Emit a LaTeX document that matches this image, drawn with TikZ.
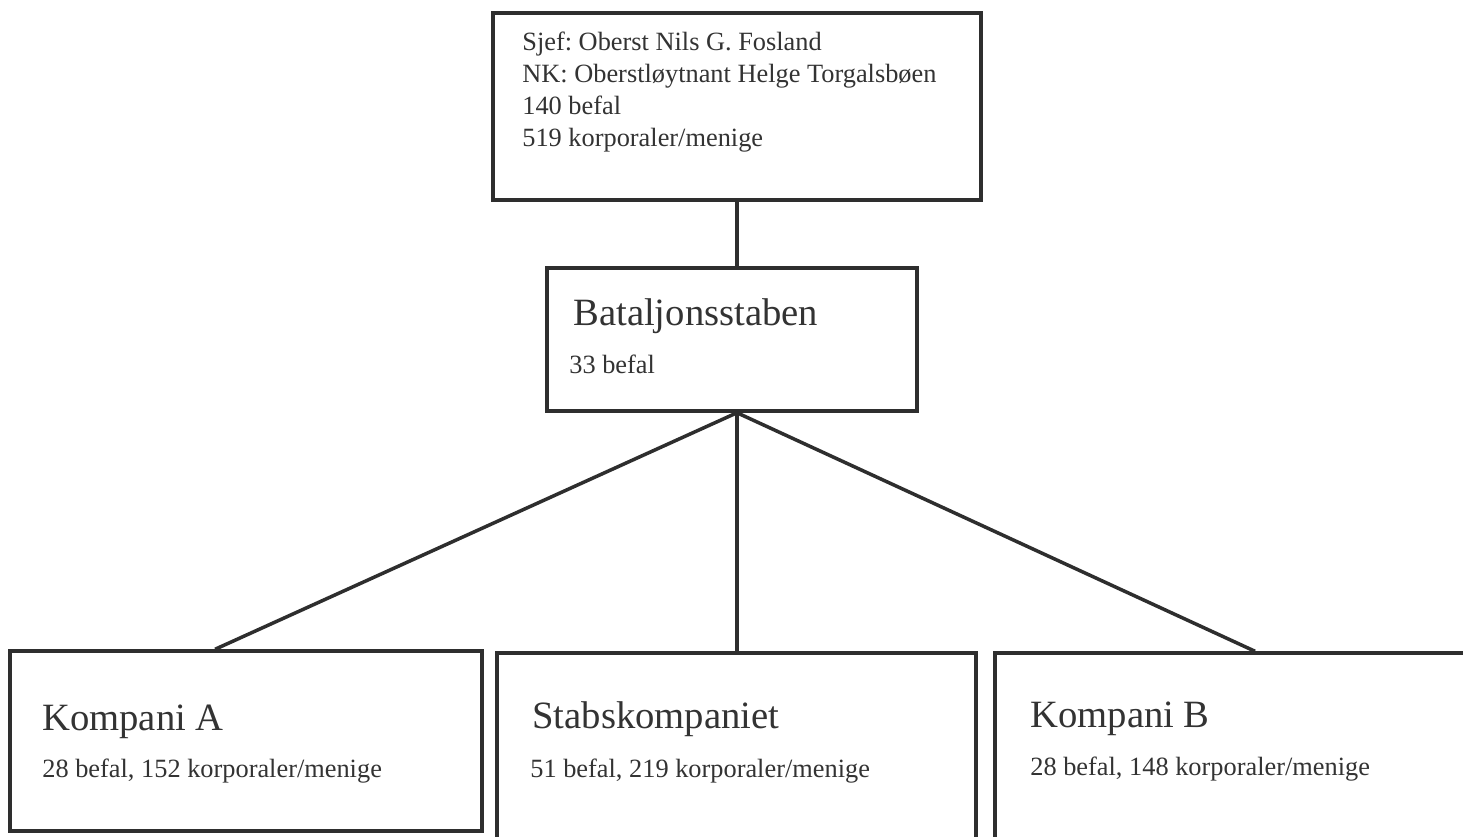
\documentclass[tikz,border=0pt]{standalone}
\usepackage{fontspec}
\setmainfont{Liberation Serif}
\usepackage{xcolor}
\usepackage{tikz}
\usetikzlibrary{calc}
\frenchspacing

\begin{document}
\begin{tikzpicture}[
  x=0.02cm, y=-0.02cm,
  unit/.style={rectangle, draw=black!82, line width=2pt, inner sep=0pt},
  link/.style={draw=black!82, line width=2pt},
  unitname/.style={anchor=base west, inner sep=0pt, text=black!80, font=\fontsize{22}{26}\selectfont},
  unitinfo/.style={anchor=base west, inner sep=0pt, text=black!80, font=\fontsize{15}{18}\selectfont}
]
\useasboundingbox (0,0) rectangle (1463,836);
\clip (0,0) rectangle (1463,836);
\fill[white] (0,0) rectangle (1463,836);

% Battalion command
\node[unit, minimum width=9.76cm, minimum height=3.74cm] (chief) at (737,106.5) {};
\node[anchor=north west, inner sep=0pt, align=left, text=black!80, font=\fontsize{15}{18.1}\selectfont] (chieftext) at (522,32)
  {Sjef: Oberst Nils G. Fosland\\NK: Oberstløytnant Helge Torgalsbøen\\140 befal\\519 korporaler/menige};

% Staff
\node[unit, minimum width=7.4cm, minimum height=2.86cm] (staff) at (732,339.5) {};
\node[unitname] (staffname) at (573,325) {Bataljonsstaben};
\node[unitinfo] (staffinfo) at (569,373) {33 befal};

% Companies
\node[unit, minimum width=9.44cm, minimum height=3.6cm] (coyA) at (246,741) {};
\node[unit, minimum width=9.58cm, minimum height=4.94cm] (hq) at (736.5,776.5) {};
\node[unit, minimum width=10.4cm, minimum height=4.94cm] (coyB) at (1255,776.5) {};

\node[unitname] (coyAname) at (42,730) {Kompani A};
\node[unitinfo] (coyAinfo) at (42,777) {28 befal, 152 korporaler/menige};
\node[unitname] (hqname) at (532,728) {Stabskompaniet};
\node[unitinfo] (hqinfo) at (530,777) {51 befal, 219 korporaler/menige};
\node[unitname] (coyBname) at (1030,727) {Kompani B};
\node[unitinfo] (coyBinfo) at (1030,775) {28 befal, 148 korporaler/menige};

% Connect units
\coordinate (hub) at (chief.south |- staff.south);
\draw[link] (chief.south) -- (chief.south |- staff.north);
\draw[link] (hub) -- ($(coyA.north west)!0.435!(coyA.north east)$);
\draw[link] (hub) -- (hub |- hq.north);
\draw[link] (hub) -- (coyB.north);

\end{tikzpicture}
\end{document}
